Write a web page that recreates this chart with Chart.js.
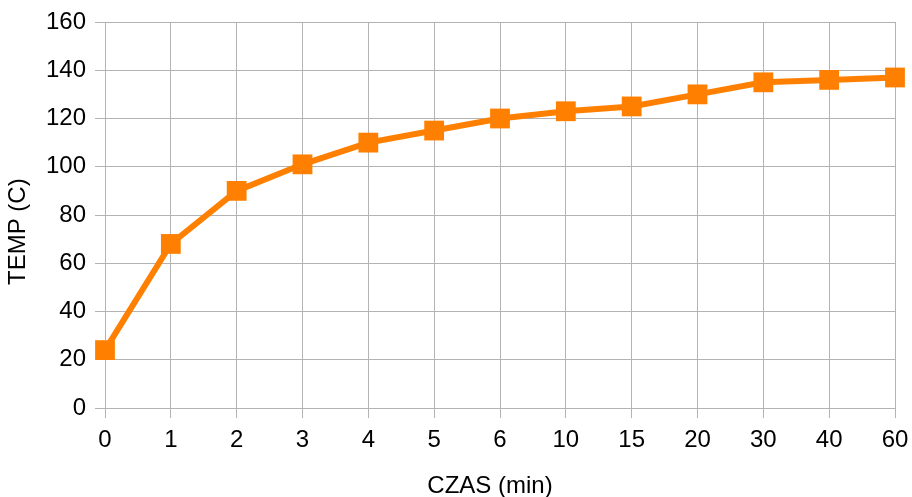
<!DOCTYPE html>
<html>
<head>
<meta charset="utf-8">
<script src="https://cdn.jsdelivr.net/npm/chart.js@4"></script>
<style>
  html, body { margin: 0; padding: 0; background: #fff; }
  #wrap { width: 912px; height: 497px; }
</style>
</head>
<body>
<div id="wrap"><canvas id="chart" width="912" height="497"></canvas></div>
<script>
const czas = ['0', '1', '2', '3', '4', '5', '6', '10', '15', '20', '30', '40', '60'];
const temp = [24, 68, 90, 101, 110, 115, 120, 123, 125, 130, 135, 136, 137];
const yTicks = [0, 20, 40, 60, 80, 100, 120, 140, 160];

const orange = '#ff8000';
const gridGray = '#b3b3b3';
const font = 'Liberation Sans, Arial, sans-serif';
// trailing no-break spaces nudge the centred titles to where the reference has them
const nb = n => '\u00a0'.repeat(n);

new Chart(document.getElementById('chart').getContext('2d'), {
  type: 'line',
  data: {
    labels: czas,
    datasets: [{
      label: 'TEMP',
      data: temp,
      borderColor: orange,
      backgroundColor: orange,
      borderWidth: 6,
      tension: 0,
      fill: false,
      pointStyle: 'rect',
      pointRadius: 14,
      pointBorderWidth: 0,
      pointBackgroundColor: orange,
      pointBorderColor: orange
    }]
  },
  options: {
    responsive: false,
    animation: false,
    layout: { padding: { top: 22, right: 17, left: 0, bottom: 0 } },
    plugins: { legend: { display: false }, tooltip: { enabled: false } },
    scales: {
      x: {
        offset: false,
        grid: { color: gridGray, lineWidth: 1, tickLength: 10, drawTicks: true },
        border: { color: gridGray },
        ticks: { color: '#000', font: { family: font, size: 24 }, padding: 8, maxRotation: 0, autoSkip: false },
        title: { display: true, text: 'CZAS (min)' + nb(3), color: '#000', font: { family: font, size: 24, lineHeight: 0.85 }, padding: { top: 0, bottom: 0 } },
        afterFit(scale) {
          scale.height = 89;
          scale.paddingLeft = 0;
          scale.paddingRight = 0;
        }
      },
      y: {
        min: 0,
        max: 160,
        afterBuildTicks(scale) { scale.ticks = yTicks.map(v => ({ value: v })); },
        grid: { color: gridGray, lineWidth: 1, tickLength: 10 },
        border: { color: gridGray },
        ticks: { color: '#000', font: { family: font, size: 24 }, padding: 9 },
        title: { display: true, text: 'TEMP (C)' + nb(5), color: '#000', font: { family: font, size: 24, lineHeight: 0.85 }, padding: { top: 8, bottom: 8 } },
        afterFit(scale) {
          scale.width = 105;
          scale.paddingTop = 0;
          scale.paddingBottom = 0;
        }
      }
    }
  }
});
</script>
</body>
</html>
